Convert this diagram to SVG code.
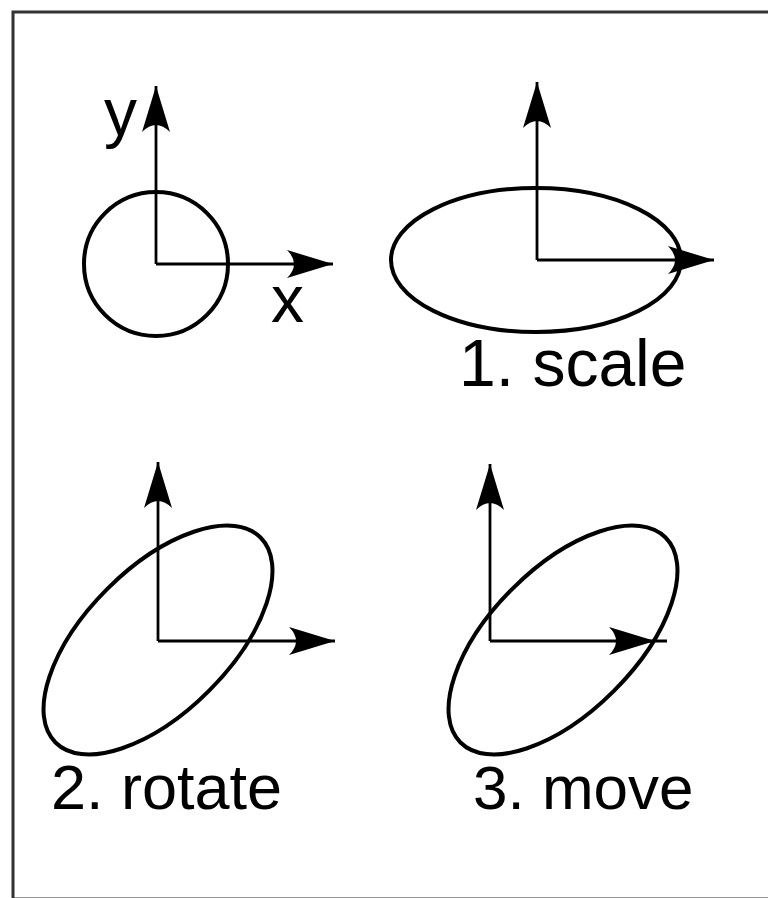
<svg xmlns="http://www.w3.org/2000/svg" width="768" height="898" viewBox="0 0 768 898">
  <style>
    .axis { stroke: #000; stroke-width: 2.8; fill: none; marker-end: url(#arrow); }
    .shape { stroke: #000; stroke-width: 4; fill: none; }
    .lbl { font-family: "Liberation Sans", Arial, Helvetica, sans-serif; fill: #000; }
  </style>
  <defs>
    <marker id="arrow" markerUnits="userSpaceOnUse" markerWidth="50" markerHeight="32" refX="46" refY="16" orient="auto" overflow="visible">
      <path d="M46,16 L0,2 Q14,16 0,30 Z" fill="#000"/>
    </marker>
    <marker id="arrow-inset" markerUnits="userSpaceOnUse" markerWidth="62" markerHeight="32" refX="58" refY="16" orient="auto" overflow="visible">
      <path d="M46,16 L0,2 Q14,16 0,30 Z" fill="#000"/>
    </marker>
  </defs>
  <rect x="0" y="0" width="768" height="898" fill="#fff"/>
  <rect id="frame" x="13" y="12" width="800" height="887" fill="none" stroke="#333" stroke-width="3"/>

  <g id="panel-original">
    <circle class="shape" cx="156" cy="264" r="72"/>
    <text class="lbl" x="104" y="135" font-size="66">y</text>
    <text class="lbl" x="271" y="322" font-size="66">x</text>
  </g>
  <g id="panel-scale">
    <ellipse class="shape" cx="536" cy="260" rx="145" ry="72"/>
    <text class="lbl" x="459" y="386" font-size="66">1. scale</text>
  </g>
  <g id="panel-rotate">
    <ellipse class="shape" cx="0" cy="0" rx="145" ry="72" transform="translate(158 640) rotate(-45)"/>
    <text class="lbl" x="51" y="809" font-size="63">2. rotate</text>
  </g>
  <g id="panel-move">
    <ellipse class="shape" cx="0" cy="0" rx="145" ry="72" transform="translate(563 640) rotate(-45)"/>
    <text class="lbl" x="473" y="809" font-size="62">3. move</text>
  </g>

  <g id="connectors">
    <line class="axis" x1="156" y1="264" x2="156" y2="86"/>
    <line class="axis" x1="156" y1="264" x2="333" y2="264"/>
    <line class="axis" x1="537" y1="260" x2="537" y2="82"/>
    <line class="axis" x1="537" y1="260" x2="714" y2="260"/>
    <line class="axis" x1="158" y1="641" x2="158" y2="462"/>
    <line class="axis" x1="158" y1="641" x2="335" y2="641"/>
    <line class="axis" x1="490" y1="641" x2="490" y2="464"/>
    <line class="axis" x1="490" y1="641" x2="667" y2="641" style="marker-end:url(#arrow-inset)"/>
  </g>
</svg>
